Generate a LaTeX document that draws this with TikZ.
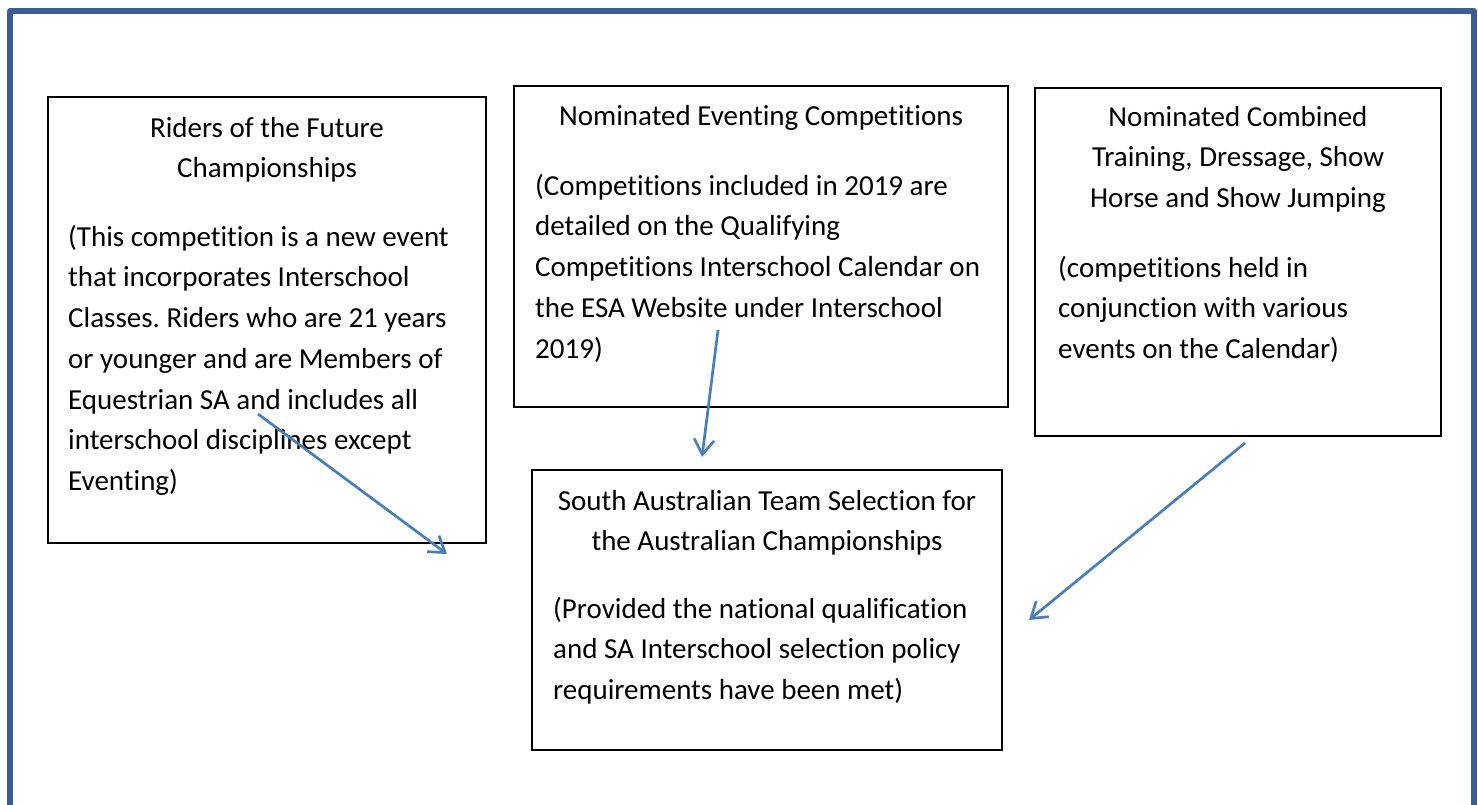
\documentclass[tikz,border=0pt]{standalone}
\usepackage{fontspec}
\setmainfont[RawFeature={-liga;-clig;-calt;-dlig}]{Carlito}
\frenchspacing
\usetikzlibrary{arrows.meta,positioning}
\definecolor{framecol}{HTML}{3B5E8E}
\definecolor{linkcol}{HTML}{4A7EBB}
\newcommand{\firstline}{\rule{0pt}{25pt}}
\begin{document}
\begin{tikzpicture}[x=1pt,y=-1pt,
    card/.style={draw,line width=2pt,anchor=north west,inner sep=0pt,outer sep=0pt},
    head/.style={anchor=north,align=center,inner sep=0pt,font=\fontsize{29}{40.7}\selectfont},
    body/.style={anchor=north west,align=left,inner sep=0pt,font=\fontsize{29}{40.7}\selectfont},
    link/.style={linkcol,line width=2.7pt,-{Straight Barb[length=15pt,width=20pt]}}]
  \useasboundingbox (0,0) rectangle (1478,805);
  \draw [framecol,line width=5.5pt,line join=round] (10,810) -- (10,11) -- (1474,11) -- (1474,810);

  \node [card,minimum width=438pt,minimum height=446pt] (future) at (48,97) {};
  \node [card,minimum width=494pt,minimum height=321pt] (eventing) at (514,86) {};
  \node [card,minimum width=406pt,minimum height=348pt] (combined) at (1035,88) {};
  \node [card,minimum width=470pt,minimum height=280pt] (team) at (532,470) {};

  \node [head] (futurehead) at ([yshift=-15pt]future.north)
    {\firstline Riders of the Future\\Championships};
  \node [body] (futurebody) at ([xshift=20pt,yshift=-124pt]future.north west)
    {\firstline(This competition is a new event\\that incorporates Interschool\\Classes. Riders who are 21 years\\or younger and are Members of\\Equestrian SA and includes all\\interschool disciplines except\\Eventing)};

  \node [head] (eventinghead) at ([yshift=-14pt]eventing.north)
    {\firstline Nominated Eventing Competitions};
  \node [body] (eventingbody) at ([xshift=21pt,yshift=-84pt]eventing.north west)
    {\firstline(Competitions included in 2019 are\\detailed on the Qualifying\\Competitions Interschool Calendar on\\the ESA Website under Interschool\\2019)};

  \node [head] (combinedhead) at ([yshift=-13pt]combined.north)
    {\firstline Nominated Combined\\Training, Dressage, Show\\Horse and Show Jumping};
  \node [body] (combinedbody) at ([xshift=23pt,yshift=-164pt]combined.north west)
    {\firstline(competitions held in\\conjunction with various\\events on the Calendar)};

  \node [head] (teamhead) at ([yshift=-15pt]team.north)
    {\firstline South Australian Team Selection for\\the Australian Championships};
  \node [body] (teambody) at ([xshift=21pt,yshift=-123pt]team.north west)
    {\firstline(Provided the national qualification\\and SA Interschool selection policy\\requirements have been met)};

  % arrow ends
  \coordinate (futurefrom) at (258,414);
  \coordinate (futureto) at (447,554);
  \coordinate (eventingfrom) at (718,330);
  \coordinate (eventingto) at (702,457);
  \coordinate (combinedfrom) at (1245,443);
  \coordinate (combinedto) at (1029,620);

  \draw [link] (futurefrom) -- (futureto);
  \draw [link] (eventingfrom) -- (eventingto);
  \draw [link] (combinedfrom) -- (combinedto);
\end{tikzpicture}
\end{document}
